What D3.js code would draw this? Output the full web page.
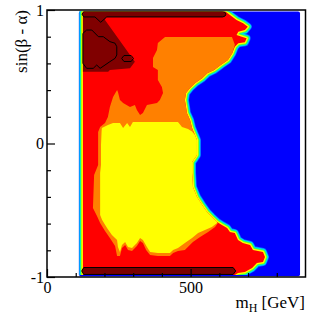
<!DOCTYPE html>
<html><head><meta charset="utf-8">
<script src="https://cdn.jsdelivr.net/npm/d3@7"></script>
<style>body{margin:0;background:#fff}svg{display:block}</style>
</head><body>
<svg id="chart" width="315" height="316"></svg>
<script>
// ---- axes ----
const xDomain = [0, 900];
const yDomain = [-1, 1];
const xMajorTicks = [0, 500];
const xMinorTicks = [100, 200, 300, 400, 600, 700, 800];
const yMajorTicks = [-1, 0, 1];
const yMinorTicks = [-0.8, -0.6, -0.4, -0.2, 0.2, 0.4, 0.6, 0.8];
const xTitle = ["m", "H", " [GeV]"];
const yTitle = "sin(β - α)";

// ---- scanned region (mH, sin(beta-alpha)) ----
const scanMH = [111, 881];
const scanSin = [-0.995, 0.989];

// ---- level regions, outlines as [mH, sin(beta-alpha)] ----
const redRegion = [
[125,0.99],[620,0.99],[637,0.962],[660,0.925],[683,0.900],[699,0.875],[689,0.850],[666,0.837],[660,0.813],[678,0.800],[695,0.788],[689,0.758],[666,0.751],[654,0.725],[645,0.676],[630,0.625],[605,0.588],[582,0.551],[558,0.526],[540,0.488],[516,0.453],[498,0.416],[484,0.378],[480,0.326],[484,0.273],[487,0.228],[498,0.176],[505,0.116],[515,0.064],[522,0.026],[522,-0.086],[515,-0.109],[505,-0.139],[505,-0.221],[508,-0.326],[522,-0.401],[540,-0.461],[557,-0.513],[574,-0.551],[592,-0.588],[609,-0.611],[627,-0.633],[637,-0.663],[654,-0.671],[665,-0.723],[682,-0.746],[707,-0.760],[717,-0.798],[752,-0.813],[759,-0.850],[752,-0.888],[731,-0.895],[714,-0.933],[689,-0.963],[665,-0.970],[654,-0.985],[125,-0.985]
];
const orangeRegion = [
[411,0.798],[644,0.798],[654,0.740],[645,0.676],[630,0.625],[605,0.588],[582,0.551],[558,0.526],[540,0.488],[516,0.453],[498,0.416],[484,0.378],[480,0.326],[484,0.273],[487,0.228],[498,0.176],[505,0.116],[515,0.064],[522,0.026],[522,-0.086],[515,-0.109],[505,-0.139],[505,-0.221],[508,-0.326],[522,-0.401],[540,-0.461],[557,-0.513],[574,-0.551],[592,-0.588],[595,-0.596],
[585,-0.626],[561,-0.663],[533,-0.701],[508,-0.738],[480,-0.798],[456,-0.805],[439,-0.820],[428,-0.843],[386,-0.843],[359,-0.835],[345,-0.798],[334,-0.746],[324,-0.730],[313,-0.768],[296,-0.805],[282,-0.798],[272,-0.760],[261,-0.783],[254,-0.843],[244,-0.843],[237,-0.768],[219,-0.708],[202,-0.655],[185,-0.596],[174,-0.543],[160,-0.483],[164,-0.236],[178,-0.161],[178,-0.011],[178,0.086],[185,0.124],[202,0.154],[212,0.199],[219,0.273],[230,0.348],[244,0.401],[247,0.386],[254,0.326],[265,0.303],[289,0.273],[306,0.288],[313,0.251],[324,0.213],[334,0.228],[348,0.288],[383,0.303],[393,0.326],[404,0.378],[400,0.423],[386,0.476],[386,0.551],[369,0.573],[369,0.640],[383,0.700],[386,0.753]
];
const yellowRegion = [
[190,0.088],[191,0.116],[212,0.139],[230,0.154],[254,0.154],[265,0.116],[279,0.154],[289,0.124],[299,0.161],[456,0.161],[470,0.124],[491,0.109],[505,0.09],[515,0.064],[522,0.026],[522,-0.086],[515,-0.109],[505,-0.139],[505,-0.221],[508,-0.326],[522,-0.401],[540,-0.461],[557,-0.513],[574,-0.551],[592,-0.588],[592,-0.596],[574,-0.626],[550,-0.648],[526,-0.671],[505,-0.708],[480,-0.746],[456,-0.783],[439,-0.798],[428,-0.820],[386,-0.820],[359,-0.813],[348,-0.775],[334,-0.723],[324,-0.708],[313,-0.746],[296,-0.783],[282,-0.775],[272,-0.738],[261,-0.760],[254,-0.813],[247,-0.775],[244,-0.723],[226,-0.686],[209,-0.633],[192,-0.573],[185,-0.536],[185,-0.221],[188,-0.161],[188,-0.011]
];
const darkRedRegion = [[125,0.96],[195,0.96],[202,0.925],[306,0.613],[289,0.563],[219,0.551],[213,0.538],[125,0.538]];
const topBar = [[122,0.969],[128,0.989],[612,0.989],[620,0.982],[623,0.969],[620,0.955],[612,0.948],[208,0.948],[187,0.908],[167,0.948],[128,0.948]];
const bottomBar = [[121,-0.955],[128,-0.929],[648,-0.929],[657,-0.955],[648,-0.981],[128,-0.981]];
const innerContour = [[125,0.825],[138,0.850],[156,0.850],[179,0.800],[196,0.800],[219,0.763],[237,0.751],[243,0.725],[243,0.663],[237,0.638],[219,0.613],[202,0.588],[185,0.563],[173,0.588],[161,0.563],[138,0.563],[125,0.601]];
const smallContour = [[260,0.637],[268,0.659],[293,0.659],[301,0.637],[293,0.614],[268,0.614]];

// ---- drawing ----
const svg = d3.select("#chart");
const x = d3.scaleLinear().domain(xDomain).range([47, 305.5]);
const y = d3.scaleLinear().domain(yDomain).range([277, 10]);
const line = d3.line().x(d => x(d[0])).y(d => y(d[1])).curve(d3.curveLinearClosed);

const defs = svg.append("defs");
defs.append("clipPath").attr("id", "scan").append("rect")
  .attr("x", x(scanMH[0])).attr("y", y(scanSin[1]))
  .attr("width", x(scanMH[1]) - x(scanMH[0]))
  .attr("height", y(-0.985) - y(scanSin[1]));

// blue background (lowest level)
svg.append("rect")
  .attr("x", x(scanMH[0])).attr("y", y(scanSin[1]))
  .attr("width", x(scanMH[1]) - x(scanMH[0]))
  .attr("height", y(scanSin[0]) - y(scanSin[1]))
  .attr("rx", 2)
  .attr("fill", "#0000ff");

const g = svg.append("g").attr("clip-path", "url(#scan)");
// colour gradient band at the edge of the allowed region
[["#0070ff", 8], ["#00d8ff", 6.6], ["#00ff90", 5.2], ["#90ff00", 3.8], ["#ffff00", 2.4]].forEach(([c, w]) => {
  g.append("path").attr("d", line(redRegion)).attr("fill", "none")
    .attr("stroke", c).attr("stroke-width", w).attr("stroke-linejoin", "round");
});
g.append("path").attr("d", line(redRegion)).attr("fill", "#ff0000");
g.append("path").attr("d", line(orangeRegion)).attr("fill", "#ff8000");
g.append("path").attr("d", line(yellowRegion)).attr("fill", "#ffff00");
g.append("path").attr("d", line(darkRedRegion)).attr("fill", "#800000");
g.append("path").attr("d", line(topBar)).attr("fill", "#7a0000").attr("stroke", "#000").attr("stroke-width", 1);
g.append("path").attr("d", line(bottomBar)).attr("fill", "#7a0000").attr("stroke", "#000").attr("stroke-width", 1);
g.append("path").attr("d", line(innerContour)).attr("fill", "none").attr("stroke", "#000").attr("stroke-width", 1);
g.append("path").attr("d", line(smallContour)).attr("fill", "none").attr("stroke", "#000").attr("stroke-width", 1);

// frame
svg.append("rect").attr("x", x(xDomain[0])).attr("y", y(yDomain[1]))
  .attr("width", x(xDomain[1]) - x(xDomain[0])).attr("height", y(yDomain[0]) - y(yDomain[1]))
  .attr("fill", "none").attr("stroke", "#000").attr("stroke-width", 1.5);

const font = "Liberation Serif, Times New Roman, serif";
function styleAxis(sel) {
  sel.select(".domain").remove();
  sel.selectAll("line").attr("stroke", "#000").attr("stroke-width", 1.2);
  sel.selectAll("text").attr("font-family", font).attr("font-size", 16).attr("fill", "#000");
}
svg.append("g").attr("transform", `translate(0,${y(yDomain[0])})`)
  .call(d3.axisBottom(x).tickValues(xMajorTicks).tickSize(-8).tickPadding(5).tickFormat(d => String(d)))
  .call(styleAxis);
svg.append("g").attr("transform", `translate(0,${y(yDomain[0])})`)
  .call(d3.axisBottom(x).tickValues(xMinorTicks).tickSize(-4).tickFormat(""))
  .call(styleAxis);
svg.append("g").attr("transform", `translate(${x(xDomain[0])},0)`)
  .call(d3.axisLeft(y).tickValues(yMajorTicks).tickSize(-8).tickPadding(3).tickFormat(d => String(d)))
  .call(styleAxis);
svg.append("g").attr("transform", `translate(${x(xDomain[0])},0)`)
  .call(d3.axisLeft(y).tickValues(yMinorTicks).tickSize(-4).tickFormat(""))
  .call(styleAxis);

// titles
const xt = svg.append("text").attr("x", 305).attr("y", 308).attr("text-anchor", "end")
  .attr("font-family", font).attr("font-size", 17).attr("fill", "#000");
xt.append("tspan").text(xTitle[0]);
xt.append("tspan").attr("font-size", 12).attr("dy", 4).text(xTitle[1]);
xt.append("tspan").attr("dy", -4).text(xTitle[2]);

svg.append("text").attr("transform", "translate(27,10) rotate(-90)").attr("text-anchor", "end")
  .attr("font-family", font).attr("font-size", 17).attr("fill", "#000").text(yTitle);
</script>
</body></html>
